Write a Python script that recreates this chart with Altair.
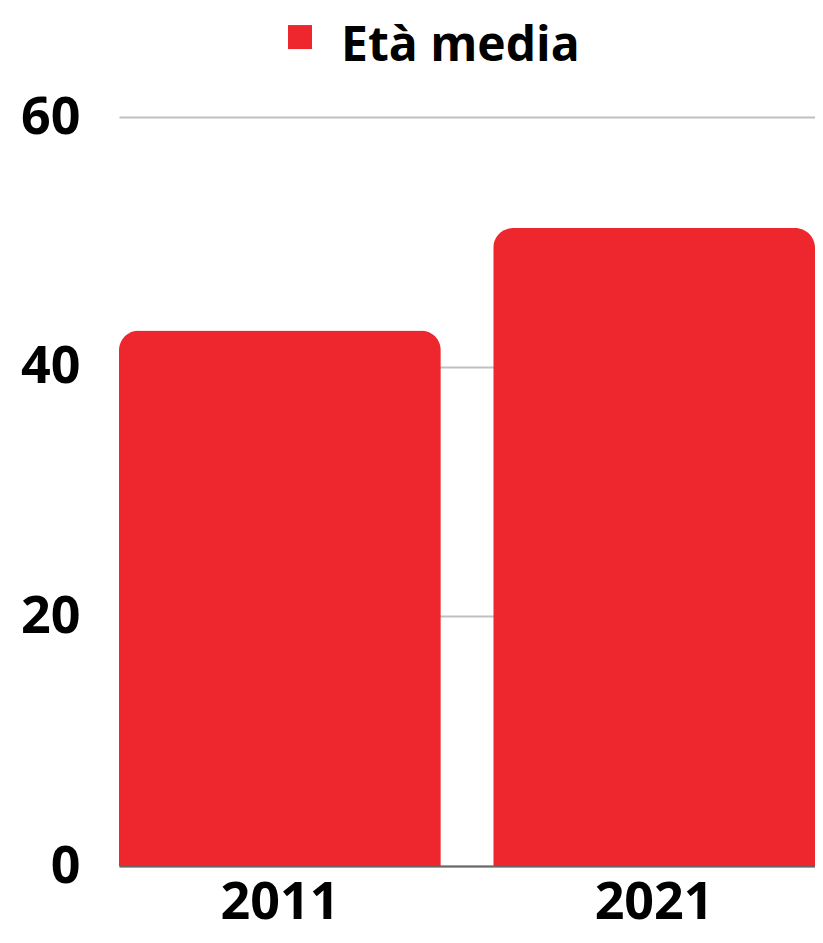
import altair as alt
import pandas as pd

years = ["2011", "2021"]
eta_media = [42.9, 51.1]
series = ["Età media", "Età media"]

df = pd.DataFrame({"anno": years, "valore": eta_media, "serie": series})

bars = alt.Chart(df).mark_bar(
    cornerRadiusTopLeft=20, cornerRadiusTopRight=20, color="#EE272E"
).encode(
    x=alt.X("anno:N", title=None,
            scale=alt.Scale(paddingInner=0.14, paddingOuter=0),
            axis=alt.Axis(labelAngle=0, ticks=False, grid=False,
                          domainColor="#666666", domainWidth=2,
                          labelFont="Open Sans", labelFontWeight="bold",
                          labelFontSize=52, labelColor="#000000",
                          labelBaseline="alphabetic", labelPadding=52)),
    y=alt.Y("valore:Q", title=None,
            scale=alt.Scale(domain=[0, 60], nice=False),
            axis=alt.Axis(values=[0, 20, 40, 60], ticks=False, domain=False,
                          gridColor="#C0C0C0", gridWidth=2,
                          labelFont="Open Sans", labelFontWeight="bold",
                          labelFontSize=52, labelColor="#000000",
                          labelPadding=39)),
    color=alt.Color("serie:N", scale=alt.Scale(range=["#EE272E"]),
                    legend=alt.Legend(title=None, orient="none",
                                      legendX=157, legendY=-94,
                                      symbolType="M-1,-1.83H1V0.17H-1Z",
                                      symbolSize=576,
                                      symbolStrokeWidth=0, symbolOpacity=1,
                                      labelFont="Open Sans", labelFontWeight="bold",
                                      labelFontSize=48, labelColor="#000000",
                                      labelOffset=17, labelLimit=0)),
)

chart = bars.properties(
    width=696, height=749,
    autosize=alt.AutoSizeParams(type="none"),
    padding={"left": 111, "top": 109, "right": 0, "bottom": 69},
).configure_view(stroke=None).configure_axis(gridOpacity=1)

chart.save("out.html", embed_options={"renderer": "svg", "actions": False})
